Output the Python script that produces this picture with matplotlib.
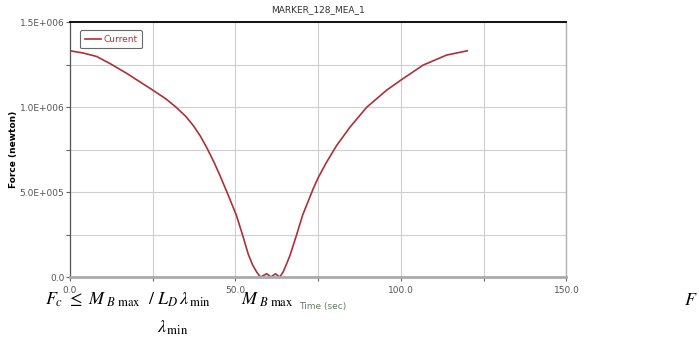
import matplotlib
matplotlib.use("Agg")
import matplotlib.pyplot as plt

plt.rcParams["mathtext.fontset"] = "stix"

# Time (sec) and force (kN)
time = [0, 4, 8, 12, 17, 21, 25, 29, 32, 35, 37.3, 39.5, 41.3, 43.5, 45.3,
        47.8, 50.3, 52.1, 53.9, 55.2, 56.4, 57.2, 57.7, 58.5, 59.4,
        60.1, 60.7, 61.4, 62.1, 62.8, 63.4, 64.4, 65.4, 66.5, 68.5,
        70.3, 73.5, 75, 77.5, 80.6, 84.6, 89.6, 95.7, 100, 106.7, 113.8, 120]
force_k = [1331, 1318, 1298, 1257, 1200, 1150, 1100, 1048, 1000, 945, 890, 826, 762, 676, 598,
           482, 362, 250, 132, 70, 30, 8, 0, 10, 19,
           10, 0, 10, 19, 8, 0, 30, 75, 129, 250,
           365, 520, 585, 675, 775, 882, 998, 1100, 1159, 1247, 1306, 1331]
force = [f * 1000 for f in force_k]

x_ticks = [0, 50, 100, 150]
x_labels = ["0.0", "50.0", "100.0", "150.0"]
y_ticks = [0, 5e5, 1e6, 1.5e6]
y_labels = ["0.0", "5.0E+005", "1.0E+006", "1.5E+006"]

fig = plt.figure(figsize=(6.99, 3.45), dpi=100)
ax = fig.add_axes([0.1001, 0.197, 0.7103, 0.739])

ax.plot(time, force, color="#ad3038", lw=1.2, label="Current")

ax.set_xlim(0, 150)
ax.set_ylim(0, 1.5e6)
ax.set_xticks(x_ticks)
ax.set_xticklabels(x_labels)
ax.set_xticks([25, 75, 125], minor=True)
ax.set_yticks(y_ticks)
ax.set_yticklabels(y_labels)
ax.set_yticks([2.5e5, 7.5e5, 1.25e6], minor=True)

ax.tick_params(which="both", direction="out", length=3, width=0.8, color="#666666",
               labelsize=6.5, labelcolor="#555555")
ax.tick_params(axis="y", pad=1)
ax.grid(True, which="both", color="#cfcfcf", lw=0.8)
ax.set_axisbelow(True)

ax.spines["top"].set_color("#111111")
ax.spines["top"].set_linewidth(1.4)
ax.spines["left"].set_color("#555555")
ax.spines["left"].set_linewidth(0.9)
ax.spines["bottom"].set_color("#aaaaaa")
ax.spines["bottom"].set_linewidth(2.0)
ax.spines["right"].set_color("#b0b0b0")
ax.spines["right"].set_linewidth(1.0)

ax.set_title("MARKER_128_MEA_1", fontsize=6.5, color="#333333", pad=7)
ax.set_ylabel("Force (newton)", fontsize=6.5, fontweight="bold")
ax.yaxis.set_label_coords(-0.105, 0.5)

leg = ax.legend(loc="upper left", fontsize=6.5, handlelength=1.8, handletextpad=0.2,
                borderpad=0.5, frameon=True, fancybox=True,
                bbox_to_anchor=(0.012, 0.985))
leg.get_frame().set_edgecolor("#444444")
leg.get_frame().set_linewidth(0.8)
for t in leg.get_texts():
    t.set_color("#ad3038")

# Text from the page around the chart
fig.text(45 / 699, 1 - 305 / 345, r"$F_c\ \leq\ M_{\ B\ \mathrm{max}}\ \ /\ L_D\,\lambda_{\,\mathrm{min}}$",
         fontsize=13, va="baseline", ha="left")
fig.text(241 / 699, 1 - 305 / 345, r"$M_{\ B\ \mathrm{max}}$", fontsize=13, va="baseline", ha="left")
fig.text(299 / 699, 1 - 307 / 345, "Time (sec)", fontsize=6.5, color="#6a7a6a", va="center", ha="left")
fig.text(684 / 699, 1 - 305 / 345, r"$F$", fontsize=13, va="baseline", ha="left")
fig.text(157 / 699, 1 - 333 / 345, r"$\lambda_{\,\mathrm{min}}$", fontsize=13, va="baseline", ha="left")

fig.savefig("out.png", dpi=100)
